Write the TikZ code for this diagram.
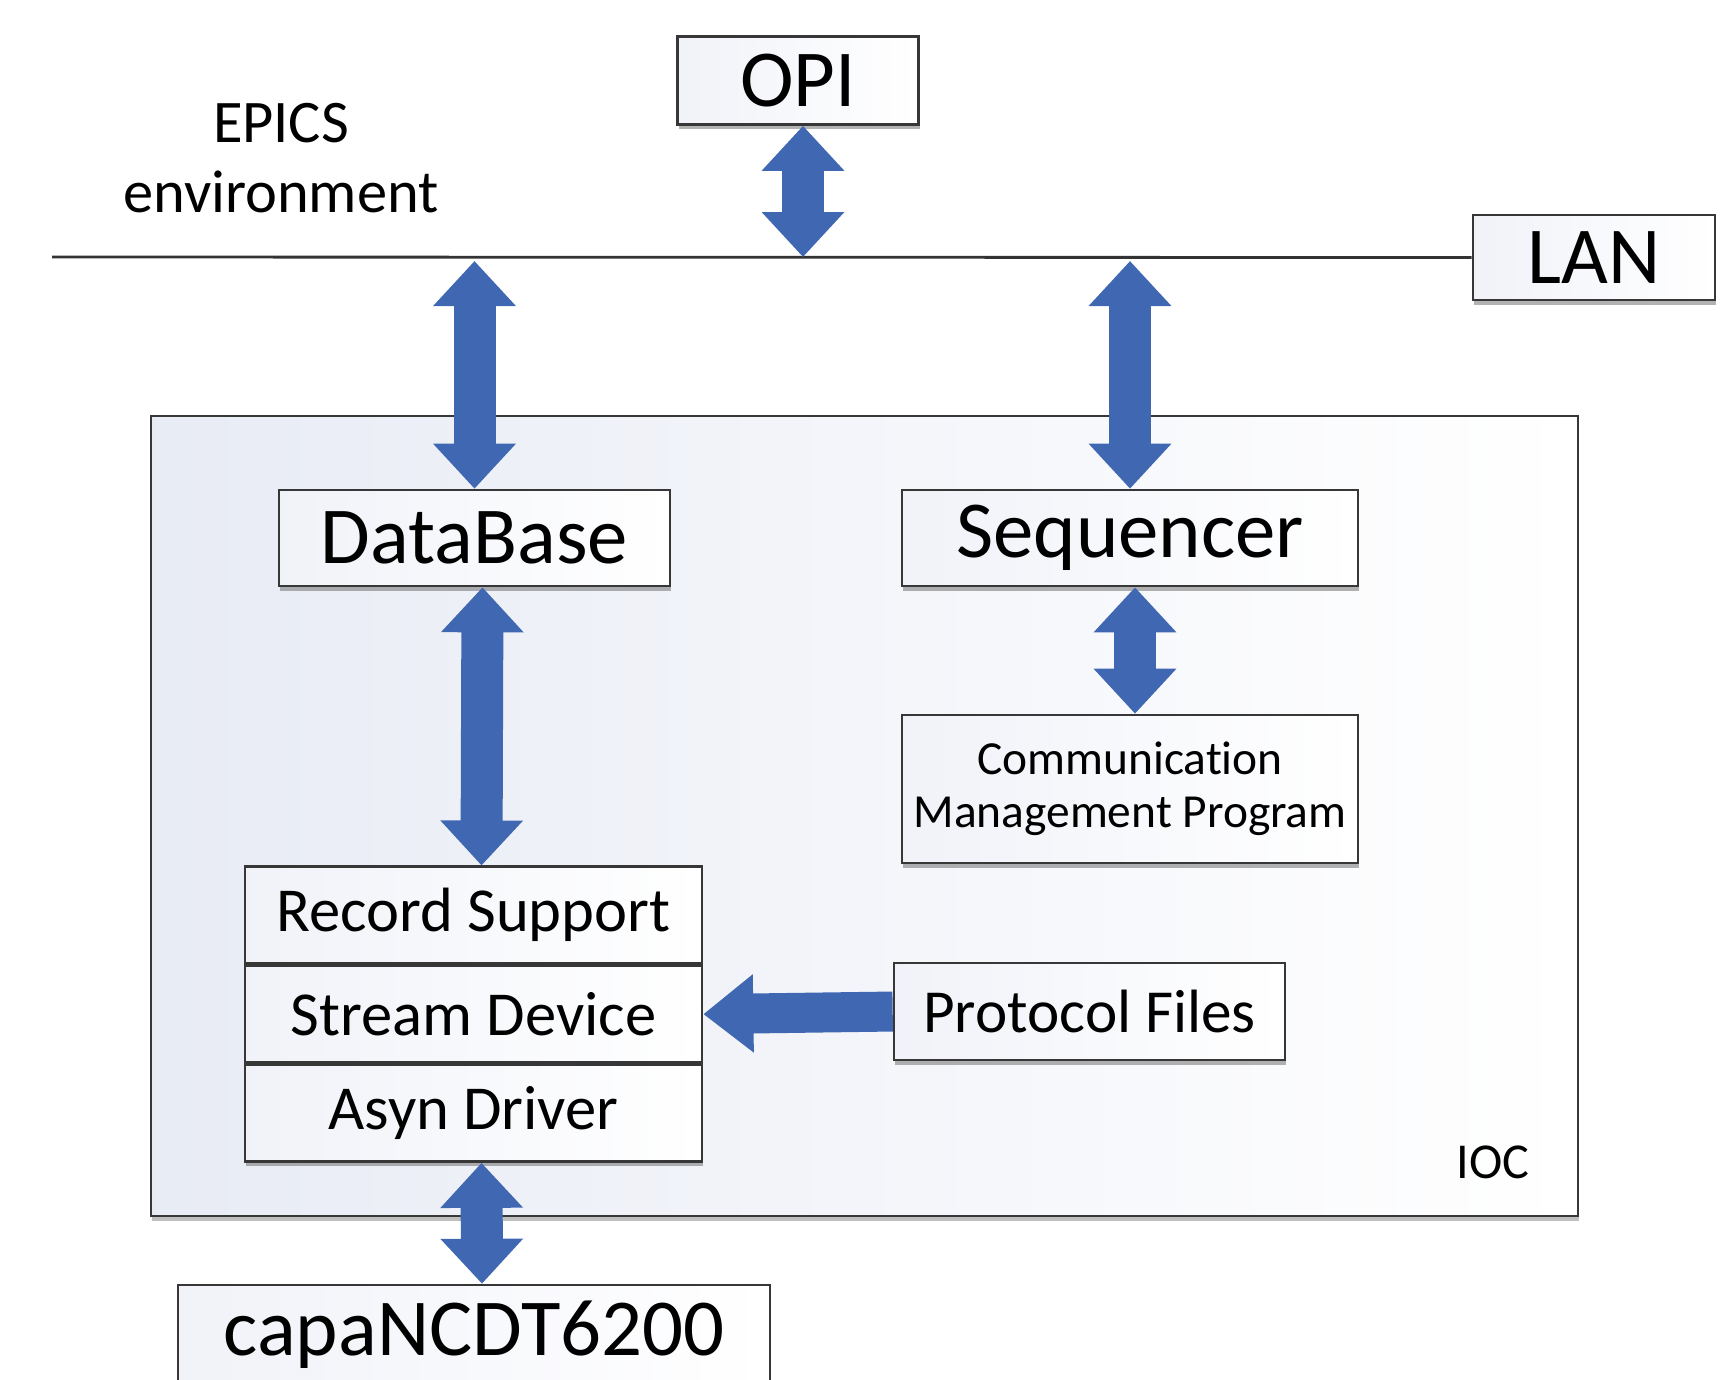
\documentclass[tikz,border=0pt]{standalone}
\usepackage{fontspec}
\setmainfont{Carlito}[Ligatures=NoCommon]
\usepackage{tikz}
\usetikzlibrary{positioning,arrows.meta,shadows}
\definecolor{epblue}{RGB}{64,104,178}
\definecolor{eptint}{RGB}{228,232,243}
\definecolor{epedge}{RGB}{55,55,55}
\tikzset{
  epbox/.style={draw=epedge, line width=0.75pt, left color=eptint!55, right color=white,
    inner sep=0pt, align=center,
    drop shadow={shadow xshift=0.4pt, shadow yshift=-1.4pt, fill=black!60, opacity=0.5}},
  epbig/.style={font=\fontsize{23}{27}\selectfont},
  epmid/.style={font=\fontsize{17.8}{21}\selectfont},
  epsmall/.style={font=\fontsize{13.5}{15.2}\selectfont},
  iocbox/.style={draw=epedge, line width=0.8pt, left color=eptint!85, right color=white,
    drop shadow={shadow xshift=0.4pt, shadow yshift=-1.4pt, fill=black!50, opacity=0.5}},
  eparrow/.style={line width=0.42cm, draw=epblue, >={Triangle[width=0.8cm,length=0.45cm]}, <->},
  eparrowone/.style={line width=0.40cm, draw=epblue, ->, >={Triangle[width=0.75cm,length=0.5cm]}},
  epwire/.style={line width=0.8pt, draw=black!80},
}
\begin{document}
\begin{tikzpicture}
\useasboundingbox (0,0) rectangle (17.30,-13.79);
% network
\node[epbox, epbig, minimum width=2.41cm, minimum height=0.88cm] (opi) at (7.98,-0.805) {OPI};
\node[epbox, epbig, minimum width=2.42cm, minimum height=0.85cm] (lan) at (15.94,-2.575) {LAN};
\coordinate (lanL) at (0.52,-2.57);
\draw[epwire] (lanL) -- (lan.west);
\node[epmid, font=\fontsize{17.2}{20}\selectfont, align=center] (epics) at (2.81,-1.58) {EPICS\\environment};
% IOC
\node[iocbox, minimum width=14.27cm, minimum height=8.0cm] (ioc) at (8.645,-8.16) {};
\node[epsmall, font=\fontsize{14.3}{16}\selectfont] (ioclabel) at (14.93,-11.62) {IOC};
\node[epbox, epbig, minimum width=3.91cm, minimum height=0.96cm] (db) at (4.745,-5.38) {DataBase};
\node[epbox, epbig, minimum width=4.56cm, minimum height=0.96cm] (seq) at (11.30,-5.38) {Sequencer};
\node[epbox, epsmall, minimum width=4.56cm, minimum height=1.48cm] (cmp) at (11.30,-7.89) {Communication\\Management Program};
\node[epbox, epmid, minimum width=4.57cm, minimum height=0.965cm] (rec) at (4.735,-9.15) {Record Support};
\node[epbox, epmid, minimum width=4.57cm, minimum height=0.965cm, below=0pt of rec] (stream) {Stream Device};
\node[epbox, epmid, minimum width=4.57cm, minimum height=0.965cm, below=0pt of stream] (asyn) {Asyn Driver};
\node[epbox, epmid, font=\fontsize{17.4}{21}\selectfont, minimum width=3.91cm, minimum height=0.97cm] (proto) at (10.895,-10.115) {Protocol Files};
% device
\node[epbox, epbig, minimum width=5.92cm, minimum height=1.0cm] (capa) at (4.74,-13.35) {capaNCDT6200};
% arrows
\draw[eparrow] ([xshift=0.05cm]opi.south) -- ([xshift=0.05cm]opi.south |- lanL);
\draw[eparrow] ([yshift=-0.04cm]db.north |- lanL) -- (db.north);
\draw[eparrow] ([yshift=-0.04cm]seq.north |- lanL) -- (seq.north);
\draw[eparrow] ([xshift=0.08cm]db.south) -- ([xshift=0.08cm]rec.north);
\draw[eparrow] ([xshift=0.05cm]seq.south) -- ([xshift=0.05cm]cmp.north);
\draw[eparrowone] (proto.west) -- (stream.east);
\draw[eparrow] ([xshift=0.08cm]asyn.south) -- ([xshift=0.08cm]capa.north);
\end{tikzpicture}
\end{document}
